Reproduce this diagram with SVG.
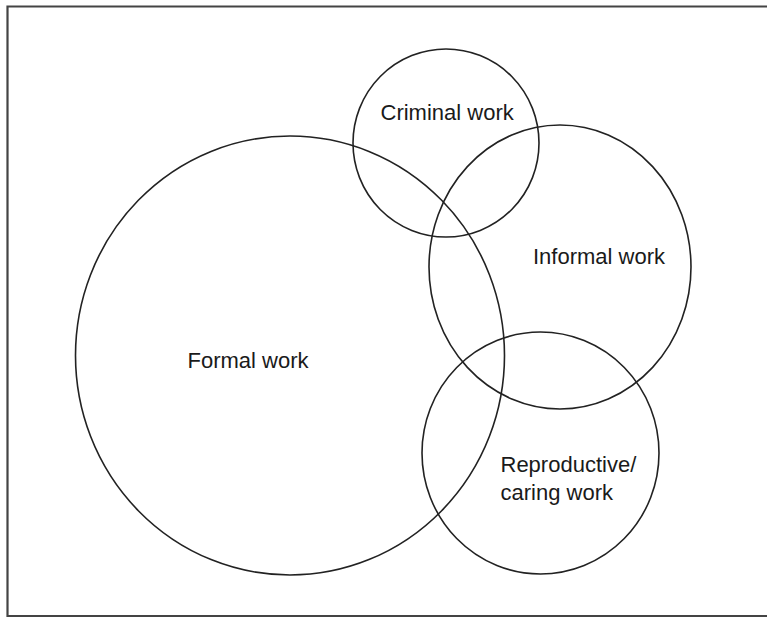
<svg xmlns="http://www.w3.org/2000/svg" width="767" height="618" viewBox="0 0 767 618">
<style>
.c{fill:none;stroke:#222;stroke-width:1.6}
.b{fill:none;stroke:#444;stroke-width:2.2}
text{font-family:"Liberation Sans",Arial,sans-serif;font-size:22px;fill:#1a1a1a}
</style>
<rect width="767" height="618" fill="#fff"/>
<path class="b" d="M7.5,617 L7.5,6.5 L767,6.5 M7.5,616 L767,616"/>
<g id="formal"><ellipse class="c" cx="290" cy="355.5" rx="214.5" ry="219.5"/><text x="187.5" y="368">Formal work</text></g>
<g id="criminal"><ellipse class="c" cx="446" cy="143" rx="93" ry="94"/><text x="380.5" y="119.5">Criminal work</text></g>
<g id="informal"><ellipse class="c" cx="560" cy="267" rx="131" ry="142"/><text x="533" y="264">Informal work</text></g>
<g id="reproductive"><ellipse class="c" cx="540.5" cy="453" rx="118.5" ry="121"/><text x="500.5" y="471.5">Reproductive/</text><text x="500.5" y="500">caring work</text></g>
<g id="connectors"/>
</svg>
